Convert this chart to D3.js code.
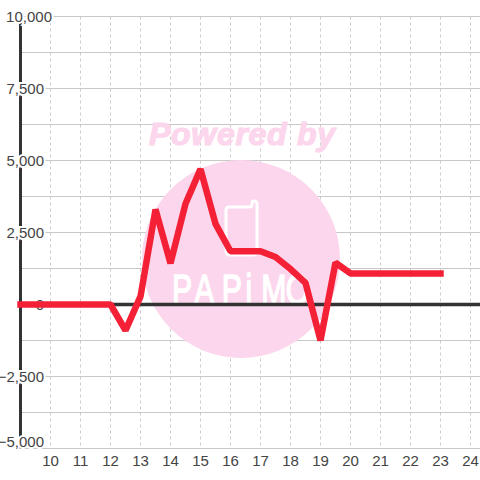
<!DOCTYPE html>
<html>
<head>
<meta charset="utf-8">
<style>
html,body{margin:0;padding:0;background:#fff}
svg{display:block}
text{font-family:"Liberation Sans",sans-serif}
</style>
<script src="https://cdnjs.cloudflare.com/ajax/libs/d3/7.8.5/d3.min.js"></script>
</head>
<body>
<svg id="chart" width="480" height="480"></svg>
<script>
var width=480
var height=480

var hours=[9,9.5,10,10.5,11,11.5,12,12.5,13,13.5,14,14.5,15,15.5,16,16.5,17,17.5,18,18.5,19,19.5,20,20.5,21,21.5,22,22.5,23]
var values=[0,0,0,0,0,0,0,-900,280,3300,1430,3500,4700,2800,1850,1850,1850,1650,1230,750,-1250,1450,1080,1080,1080,1080,1080,1080,1080]
var yTicks=[-5000,-2500,0,2500,5000,7500,10000]
var yGrid=[-5000,-3750,-2500,-1250,0,1250,2500,3750,5000,6250,7500,8750,10000]
var xTicks=[10,11,12,13,14,15,16,17,18,19,20,21,22,23,24]

const x=d3.scaleLinear().domain([9,24.3333]).range([20.5,480.5])
const y=d3.scaleLinear().domain([-5000,10000]).range([448.5,16.5])
const fmt=d3.format(",")

const svg=d3.select("svg#chart")

// grid
svg.append("g").selectAll("line")
  .data(xTicks)
  .enter().append("line")
    .attr("x1",d=>x(d)).attr("x2",d=>x(d))
    .attr("y1",y(10000)).attr("y2",y(-5000))
    .attr("stroke","#ccc")
    .attr("stroke-dasharray","3,3")

svg.append("g").selectAll("line")
  .data(yGrid)
  .enter().append("line")
    .attr("x1",20)
    .attr("x2",480)
    .attr("y1",d=>y(d)).attr("y2",d=>y(d))
    .attr("stroke","#c8c8c8")
    .attr("stroke-width",1.2)

// watermark
const mark=svg.append("g")
mark.append("circle")
    .attr("cx",241).attr("cy",259).attr("r",99)
    .attr("fill","#fcd6ec")
mark.append("text")
    .attr("x",242).attr("y",145)
    .attr("text-anchor","middle")
    .attr("font-size",32).attr("font-weight","bold").attr("font-style","italic")
    .attr("fill","#fcd6ec")
    .attr("stroke","#fcd6ec").attr("stroke-width",1.2)
    .attr("textLength",186)
    .text("Powered by")
mark.append("path")
    .attr("d","M229 207H249Q252 207 252 205V203Q252 201 254 201Q257 201 257 204V251Q257 255 253 255H230Q226 255 226 251V210Q226 207 229 207Z")
    .attr("fill","none").attr("stroke","#fff").attr("stroke-width",3)
mark.append("text")
    .attr("transform","translate(172,304) scale(.72,1)")
    .attr("x","0 31 69 102 124 158")
    .attr("font-size",42)
    .attr("font-family","Roboto")
    .attr("font-weight",300)
    .attr("fill","#fff").attr("stroke","#fff").attr("stroke-width",1.5)
    .text("PAPiMO")

// axes
svg.append("line")
    .attr("x1",20.5).attr("x2",20.5)
    .attr("y1",y(10000)).attr("y2",y(-5000))
    .attr("stroke","#333").attr("stroke-width",3)
svg.append("line")
    .attr("x1",20).attr("x2",480)
    .attr("y1",y(0)).attr("y2",y(0))
    .attr("stroke","#333").attr("stroke-width",3.6)

// labels sit over the axis, with a white halo
svg.append("g").selectAll("text")
  .data(yTicks)
  .enter().append("text")
    .attr("x",d=>d==10000?52:44)
    .attr("y",d=>d==-5000?y(d)-2:y(d)+5)
    .attr("text-anchor","end")
    .attr("font-size",15)
    .attr("fill","#444")
    .attr("stroke","#fff").attr("stroke-width",4).attr("paint-order","stroke")
    .text(d=>fmt(d))

svg.append("g").selectAll("text")
  .data(xTicks)
  .enter().append("text")
    .attr("x",d=>x(d))
    .attr("y",466)
    .attr("text-anchor","middle")
    .attr("font-size",15)
    .attr("fill","#444")
    .text(d=>d)

// line
const line=d3.line().x((d,i)=>x(hours[i])).y(d=>y(d))
svg.append("path")
    .datum(values)
    .attr("d",line)
    .attr("fill","none")
    .attr("stroke","#f32036")
    .attr("stroke-width",6.5)
    .attr("stroke-linecap","square")
    .attr("stroke-linejoin","bevel")
</script>
</body>
</html>
